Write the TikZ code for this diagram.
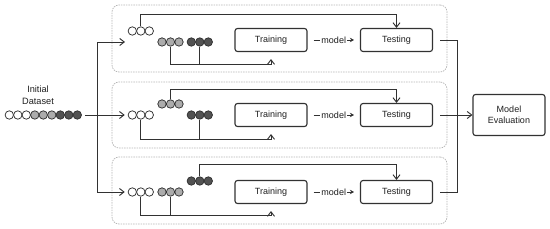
\documentclass[tikz,border=0pt]{standalone}
\usepackage{fontspec}
\setmainfont{Liberation Sans}
\usepackage{xcolor}
\definecolor{ink}{RGB}{50,50,50}
\definecolor{lgrey}{RGB}{172,172,172}
\definecolor{dgrey}{RGB}{82,82,82}
\definecolor{frame}{RGB}{180,180,180}
\usepackage{tikz}
\usetikzlibrary{arrows.meta,positioning,calc}

% three balls in a row: name prefix, x, y, fill
\newcommand{\trio}[4]{%
  \foreach \i in {1,2,3}
    \node[bl,fill=#4] (#1\i) at ({#2+(\i-1)*8.5},#3) {};%
}

\begin{document}
\begin{tikzpicture}[
  x=1pt,y=-1pt,
  bl/.style={circle,draw=ink,line width=0.75pt,inner sep=0pt,minimum size=8.4pt},
  nd/.style={rectangle,rounded corners=2.5pt,draw=ink,line width=1.1pt,
             font=\fontsize{9}{10.8}\selectfont,text=black!88,
             minimum width=72pt,minimum height=23pt,align=center},
  pn/.style={rectangle,rounded corners=7pt,draw=frame,line width=0.7pt,
             dash pattern=on 1.5pt off 1pt,minimum width=335pt,inner sep=0pt},
  ln/.style={draw=ink,line width=0.95pt},
  ar/.style={ln,-{Straight Barb[length=4.5pt,width=7pt]}},
  mar/.style={ln,-{Stealth[length=4pt,width=4.5pt]},shorten <=6pt,shorten >=6pt},
  lab/.style={fill=white,inner sep=1pt,font=\fontsize{9}{10.8}\selectfont,text=black!88},
]
  \useasboundingbox (0,0) rectangle (550,229);

  % folds
  \node[pn,minimum height=67pt] (panelA) at (279.5,38.5) {};
  \node[pn,minimum height=66pt] (panelB) at (279.5,115) {};
  \node[pn,minimum height=67pt] (panelC) at (279.5,190.5) {};

  % data set
  \node[font=\fontsize{9.2}{11.5}\selectfont,text=black!88,align=center] (dslab) at (38,95) {Initial\\Dataset};
  \trio{dsw}{9.3}{115}{white}
  \trio{dsg}{34.8}{115}{lgrey}
  \trio{dsd}{60.3}{115}{dgrey}

  % fold A
  \trio{aw}{132.3}{31}{white}
  \trio{ag}{162}{42}{lgrey}
  \trio{ad}{191.3}{42}{dgrey}
  \node[nd] (trainA) at (271,40) {Training};
  \node[nd] (testA) at (396.5,40) {Testing};

  % fold B
  \trio{bw}{132.3}{115}{white}
  \trio{bg}{162}{104}{lgrey}
  \trio{bd}{191.3}{115}{dgrey}
  \node[nd] (trainB) at (271,115) {Training};
  \node[nd] (testB) at (396.5,115) {Testing};

  % fold C
  \trio{cw}{132.3}{192}{white}
  \trio{cg}{162}{192}{lgrey}
  \trio{cd}{191.3}{181}{dgrey}
  \node[nd] (trainC) at (271,192) {Training};
  \node[nd] (testC) at (396.5,192) {Testing};

  \node[nd,minimum height=41pt] (eval) at (509,115) {Model\\Evaluation};

  \coordinate (split) at (97,115);
  \coordinate (ain) at (125,42);
  \coordinate (merge) at (457,115);

  % split into folds
  \draw[ln,shorten <=3pt] (dsd3) -- (split);
  \draw[ar] (split) |- (ain);
  \draw[ar,shorten >=3pt] (split) -- (bw1);
  \draw[ar,shorten >=3pt] (split) |- (cw1);

  % test parts
  \draw[ar] (aw2) -- ++(0,-17) -| (testA);
  \draw[ar] (bg2) -- ++(0,-15) -| (testB);
  \draw[ar] (cd2) -- ++(0,-17) -| (testC);

  % training parts
  \draw[ar,shorten >=7pt] (ag2) -- ++(0,22) -| (trainA);
  \draw[ln] (ad2) -- ++(0,22);
  \draw[ar,shorten >=7pt] (bw2) -- ++(0,24) -| (trainB);
  \draw[ln] (bd2) -- ++(0,24);
  \draw[ar,shorten >=7pt] (cw2) -- ++(0,23) -| (trainC);
  \draw[ln] (cg2) -- ++(0,23);

  % model hand-over
  \draw[mar] (trainA) -- node[lab] {model} (testA);
  \draw[mar] (trainB) -- node[lab] {model} (testB);
  \draw[mar] (trainC) -- node[lab] {model} (testC);

  % merge
  \draw[ln,shorten <=7pt] (testA) -| (merge);
  \draw[ln,shorten <=7pt] (testC) -| (merge);
  \draw[ar,shorten <=7pt] (testB) -- (eval);
\end{tikzpicture}
\end{document}
